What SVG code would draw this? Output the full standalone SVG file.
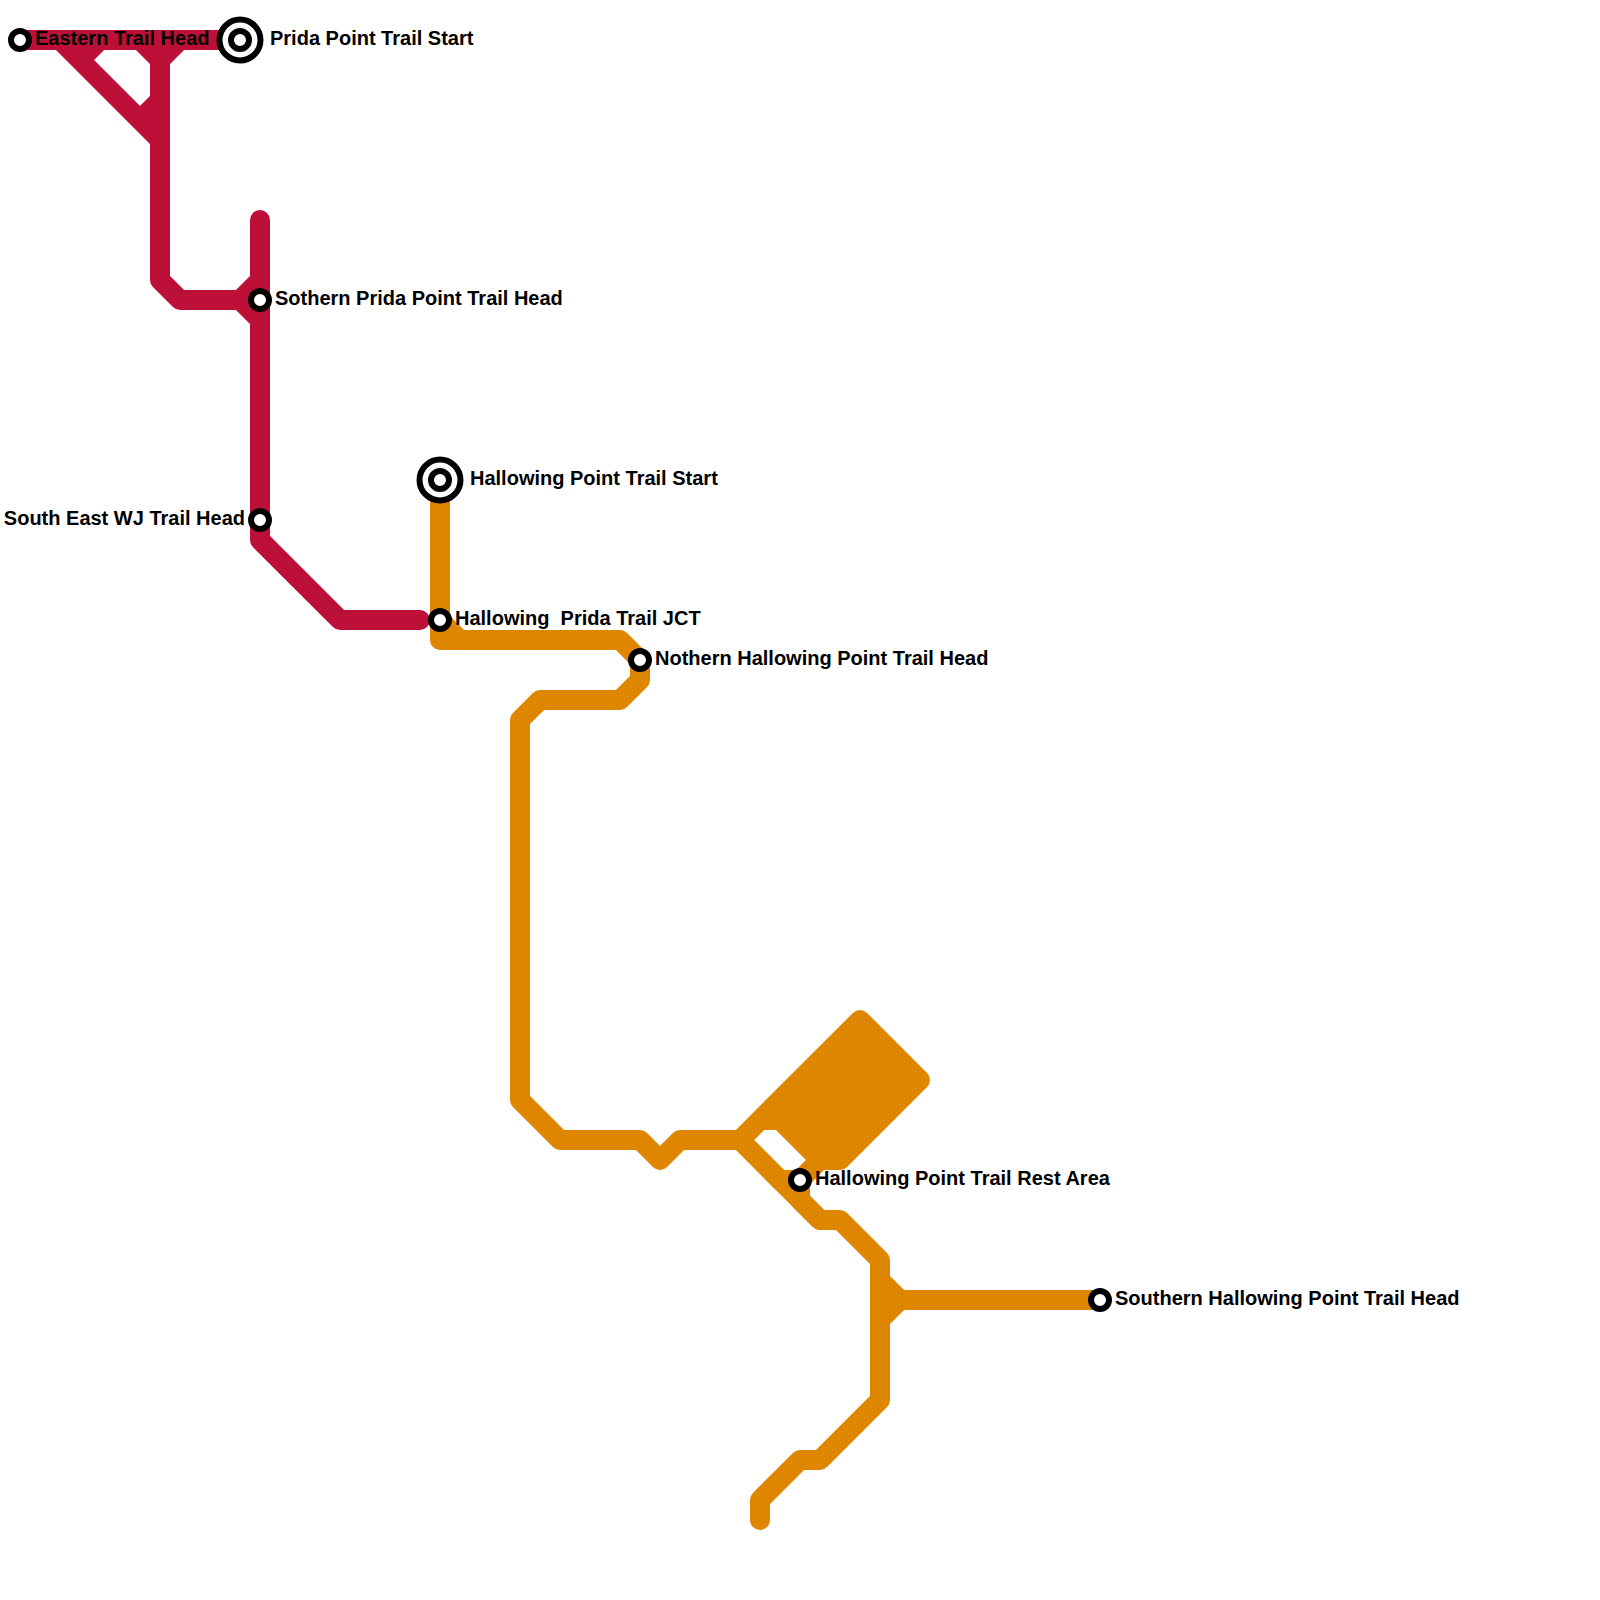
<svg xmlns="http://www.w3.org/2000/svg" width="1600" height="1600" viewBox="0 0 1600 1600">
<style>
.l{fill:none;stroke-width:20;stroke-linejoin:round;stroke-linecap:round}
.r{stroke:#bd1038}.o{stroke:#df8600}
.s{fill:#fff;stroke:#000;stroke-width:6}
text{font-family:"Liberation Sans",Arial,sans-serif;font-weight:700;font-size:20px;fill:#000}
.e{text-anchor:end}
</style>
<rect width="1600" height="1600" fill="#fff"/>
<g id="connectors">
<path class="l r" d="M20 40H240M60 40L160 140M140 40L160 60M180 40L160 60M100 40L80 60M160 100L140 120M160 40V280L180 300H240L260 320M240 300L260 280M260 220V540L340 620H420"/>
<path class="l o" d="M440 480V640H620L640 660V680L620 700H540L520 720V1100L560 1140H640L660 1160L680 1140H740L820 1220H840L880 1260V1400L820 1460H800L760 1500V1520M440 620L460 640M880 1280L900 1300H1100M880 1320L900 1300"/>
<path class="l o" style="fill:#df8600" d="M740 1140L860 1020L920 1080L840 1160H820L780 1120H760Z"/>
<path class="l o" d="M780 1180H800L820 1160M800 1180V1200L820 1220"/>
</g>
<g id="n1"><circle class="s" cx="20" cy="40" r="9"/><text x="35" y="45">Eastern Trail Head</text></g>
<g id="n2"><circle class="s" cx="240" cy="40" r="20.5"/><circle class="s" cx="240" cy="40" r="9"/><text x="270" y="45">Prida Point Trail Start</text></g>
<g id="n3"><circle class="s" cx="260" cy="300" r="9"/><text x="275" y="305">Sothern Prida Point Trail Head</text></g>
<g id="n4"><circle class="s" cx="260" cy="520" r="9"/><text class="e" x="245" y="525">South East WJ Trail Head</text></g>
<g id="n5"><circle class="s" cx="440" cy="480" r="20.5"/><circle class="s" cx="440" cy="480" r="9"/><text x="470" y="485">Hallowing Point Trail Start</text></g>
<g id="n6"><circle class="s" cx="440" cy="620" r="9"/><text x="455" y="625" xml:space="preserve">Hallowing  Prida Trail JCT</text></g>
<g id="n7"><circle class="s" cx="640" cy="660" r="9"/><text x="655" y="665">Nothern Hallowing Point Trail Head</text></g>
<g id="n8"><circle class="s" cx="800" cy="1180" r="9"/><text x="815" y="1185">Hallowing Point Trail Rest Area</text></g>
<g id="n9"><circle class="s" cx="1100" cy="1300" r="9"/><text x="1115" y="1305">Southern Hallowing Point Trail Head</text></g>
</svg>
